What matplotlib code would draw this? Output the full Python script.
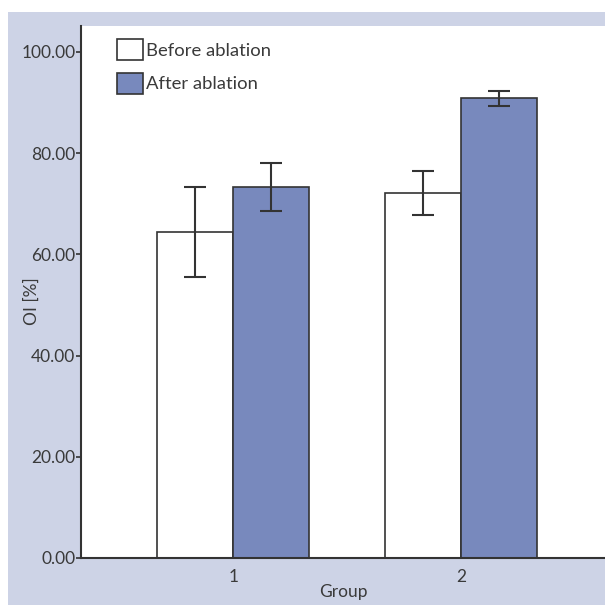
import matplotlib
matplotlib.use("Agg")
import matplotlib.pyplot as plt
from matplotlib.patches import Rectangle
import numpy as np

plt.rcParams['font.family'] = ['Lato', 'DejaVu Sans']

groups = [1, 2]
series_names = ["Before ablation", "After ablation"]
before_vals = [64.4, 72.1]
before_err = [8.8, 4.4]
after_vals = [73.3, 90.8]
after_err = [4.8, 1.45]
yticks = [0, 20, 40, 60, 80, 100]

FS = 12.5
LFS = 13.3
TXT = '#3a3a3a'

fig = plt.figure(figsize=(6.05, 6.05), dpi=100)
fig.patch.set_facecolor('white')
bg = Rectangle((8/605, 0), 1 - 8/605, 1 - 12/605, transform=fig.transFigure,
               facecolor='#cdd3e6', edgecolor='none', zorder=-10)
fig.patches.append(bg)

ax = fig.add_axes([81/605, 47/605, 1 - 81/605, (558 - 26)/605])
ax.set_facecolor('white')

x = np.array(groups, dtype=float)
w = 0.333
ekw = dict(ecolor='#333333', elinewidth=1.5, capthick=1.5)
ax.bar(x - w/2, before_vals, w, yerr=before_err, color='white', edgecolor='#333333',
       linewidth=1.2, capsize=8, error_kw=ekw, label=series_names[0], zorder=2)
ax.bar(x + w/2, after_vals, w, yerr=after_err, color='#7889bd', edgecolor='#333333',
       linewidth=1.2, capsize=8, error_kw=ekw, label=series_names[1], zorder=2)

ax.set_xlim(0.333, 2.63)
ax.set_ylim(0, 105.1)
ax.set_yticks(yticks)
ax.set_yticklabels([f"{v:.2f}" for v in yticks])
ax.set_xticks(groups)
ax.set_xticklabels([str(g) for g in groups])
ax.tick_params(axis='y', length=3.5, width=1.2, color='#333333', labelsize=FS, labelcolor=TXT, pad=0.5)
ax.tick_params(axis='x', length=0, labelsize=FS, labelcolor=TXT, pad=8)
for s in ['top', 'right']:
    ax.spines[s].set_visible(False)
for s in ['left', 'bottom']:
    ax.spines[s].set_color('#333333')
    ax.spines[s].set_linewidth(1.5)

ax.set_xlabel("Group", fontsize=FS, color=TXT, labelpad=-1)
ax.set_ylabel("OI [%]", fontsize=FS, color=TXT)
ax.yaxis.set_label_coords(-0.078, 0.483)

leg = ax.legend(loc='upper left', frameon=False, fontsize=LFS, handlelength=1.43,
                handleheight=1.37, handletextpad=0.12, labelspacing=0.68,
                bbox_to_anchor=(0.0687, 1 - 13/532), borderaxespad=0, borderpad=0)
for t in leg.get_texts():
    t.set_color(TXT)
for p in leg.get_patches():
    p.set_edgecolor('#333333')
    p.set_linewidth(1.2)

fig.savefig("out.png", dpi=100)
